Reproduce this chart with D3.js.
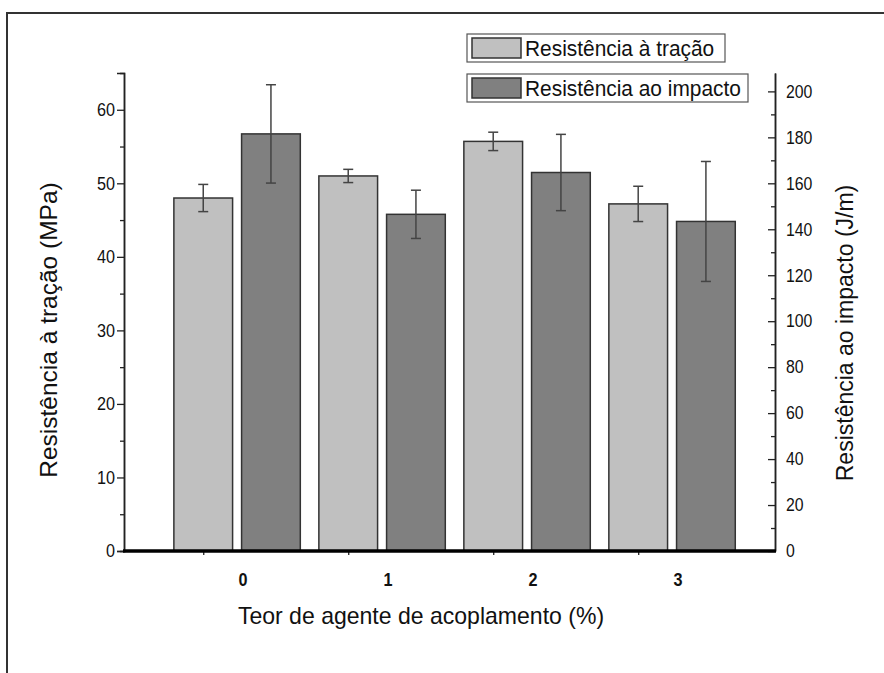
<!DOCTYPE html>
<html>
<head>
<meta charset="utf-8">
<script src="https://cdn.jsdelivr.net/npm/d3@7"></script>
<style>
  html, body { margin: 0; padding: 0; background: #fff; }
  svg { display: block; }
  text { font-family: "Liberation Sans", Arial, sans-serif; fill: #111; }
</style>
</head>
<body>
<svg id="chart" width="884" height="673"></svg>
<script>
// Coupling-agent content (%)
const categories = ["0", "1", "2", "3"];
// Tensile strength (MPa) and standard deviation
const tensile = [48.0, 51.0, 55.7, 47.2];
const tensileErr = [1.85, 0.9, 1.25, 2.4];
// Impact strength (J/m) and standard deviation
const impact = [181.5, 146.5, 164.7, 143.4];
const impactErr = [21.4, 10.5, 16.6, 26.1];
// Axis ticks
const leftTicks = [0, 10, 20, 30, 40, 50, 60];
const rightTicks = [0, 20, 40, 60, 80, 100, 120, 140, 160, 180, 200];
const seriesNames = ["Resistência à tração", "Resistência ao impacto"];

const svg = d3.select("#chart");

// outer frame
svg.append("rect")
  .attr("x", 7).attr("y", 13).attr("width", 900).attr("height", 700)
  .attr("fill", "none").attr("stroke", "#333").attr("stroke-width", 2);

const plot = { left: 124, right: 775, top: 73, bottom: 551 };

const x = d3.scaleLinear().domain([-0.78, 3.71]).range([plot.left, plot.right]);
const yL = d3.scaleLinear().domain([0, 65]).range([plot.bottom, plot.top]);
const yR = d3.scaleLinear().domain([0, 208]).range([plot.bottom, plot.top]);

const barW = 0.405;   // bar width in category units
const offs = 0.031;   // half gap between paired bars

const light = "#c0c0c0", dark = "#808080";

// horizontally condensed text placed at (px, py)
function narrow(sel, px, py, sx) {
  sel.attr("x", null).attr("y", null)
    .attr("transform", `translate(${px},${py}) scale(${sx},1)`);
}

// tensile bars
const g = svg.append("g");
g.selectAll("rect.t").data(tensile).join("rect")
  .attr("class", "t")
  .attr("x", (d, i) => x(i - offs - barW))
  .attr("width", x(barW) - x(0))
  .attr("y", d => yL(d))
  .attr("height", d => yL(0) - yL(d))
  .attr("fill", light).attr("stroke", "#333").attr("stroke-width", 1.5);

// impact bars
g.selectAll("rect.i").data(impact).join("rect")
  .attr("class", "i")
  .attr("x", (d, i) => x(i + offs))
  .attr("width", x(barW) - x(0))
  .attr("y", d => yR(d))
  .attr("height", d => yR(0) - yR(d))
  .attr("fill", dark).attr("stroke", "#333").attr("stroke-width", 1.5);

// error bars
function errBars(vals, errs, scale, cxFn) {
  const eg = svg.append("g").attr("stroke", "#444").attr("stroke-width", 1.5);
  vals.forEach((v, i) => {
    const cx = cxFn(i);
    const y1 = scale(v + errs[i]), y2 = scale(v - errs[i]);
    eg.append("line").attr("x1", cx).attr("x2", cx).attr("y1", y1).attr("y2", y2);
    eg.append("line").attr("x1", cx - 5).attr("x2", cx + 5).attr("y1", y1).attr("y2", y1);
    eg.append("line").attr("x1", cx - 5).attr("x2", cx + 5).attr("y1", y2).attr("y2", y2);
  });
}
errBars(tensile, tensileErr, yL, i => x(i - offs - barW / 2));
errBars(impact, impactErr, yR, i => x(i + offs + barW / 2));

// left axis
const axL = svg.append("g").attr("transform", `translate(${plot.left},0)`);
axL.call(d3.axisLeft(yL).tickValues(leftTicks).tickSize(7).tickPadding(5).tickFormat(d3.format("d")));
axL.append("g").call(d3.axisLeft(yL).tickValues(d3.range(5, 65, 10)).tickSize(4).tickFormat(""));
axL.selectAll(".domain").attr("stroke", "#222").attr("stroke-width", 1.5);
axL.selectAll(".tick line").attr("stroke", "#222").attr("stroke-width", 1.3);
axL.selectAll(".tick text").style("font-size", "18px").attr("fill", "#111")
  .each(function () { narrow(d3.select(this), -9, 0, 0.9); });

// right axis
const axR = svg.append("g").attr("transform", `translate(${plot.right},0)`);
axR.call(d3.axisRight(yR).tickValues(rightTicks).tickSizeInner(-7).tickSizeOuter(0).tickPadding(12).tickFormat(d3.format("d")));
axR.append("g").call(d3.axisRight(yR).tickValues(d3.range(10, 210, 20)).tickSizeInner(-4).tickSizeOuter(0).tickFormat(""));
axR.selectAll(".domain").attr("stroke", "#222").attr("stroke-width", 1.5);
axR.selectAll(".tick line").attr("stroke", "#222").attr("stroke-width", 1.3);
axR.selectAll(".tick text").style("font-size", "18px").attr("fill", "#111")
  .each(function () { narrow(d3.select(this), 11, 0, 0.88); });

// bottom axis
const axB = svg.append("g").attr("transform", `translate(0,${plot.bottom})`);
axB.call(d3.axisBottom(x).tickValues(categories.map((c, i) => i - offs - barW / 2)).tickSize(4).tickFormat(""));
axB.select(".domain").remove();
axB.selectAll(".tick line").attr("stroke", "#222").attr("stroke-width", 1.3);
svg.append("line")
  .attr("x1", plot.left - 1).attr("x2", plot.right + 1)
  .attr("y1", plot.bottom).attr("y2", plot.bottom)
  .attr("stroke", "#000").attr("stroke-width", 3.5);

// category labels
svg.append("g").selectAll("text").data(categories).join("text")
  .attr("text-anchor", "middle")
  .style("font-size", "18px").style("font-weight", "bold")
  .text(d => d)
  .each(function (d, i) { narrow(d3.select(this), x(i) + 6, plot.bottom + 35, 0.9); });

// axis titles
svg.append("text")
  .attr("transform", `translate(57,${(plot.top + plot.bottom) / 2 + 18}) rotate(-90)`)
  .attr("text-anchor", "middle").style("font-size", "24.5px")
  .text("Resistência à tração (MPa)");
svg.append("text")
  .attr("transform", `translate(853,${(plot.top + plot.bottom) / 2 + 21}) rotate(-90)`)
  .attr("text-anchor", "middle").style("font-size", "23px")
  .text("Resistência ao impacto (J/m)");
svg.append("text")
  .attr("text-anchor", "middle").style("font-size", "24px")
  .text("Teor de agente de acoplamento (%)")
  .call(s => narrow(s, 421, 624, 0.96));

// legend
const legendBoxes = [
  { y: 34, w: 258, fill: light },
  { y: 74, w: 281, fill: dark }
];
const lg = svg.append("g");
seriesNames.forEach((name, i) => {
  const b = legendBoxes[i];
  const item = lg.append("g").attr("transform", `translate(467,${b.y})`);
  item.append("rect").attr("width", b.w).attr("height", 28)
    .attr("fill", "#fff").attr("stroke", "#555").attr("stroke-width", 1.2);
  item.append("rect").attr("x", 5).attr("y", 4).attr("width", 49).attr("height", 20)
    .attr("fill", b.fill).attr("stroke", "#333").attr("stroke-width", 1.5);
  item.append("text").style("font-size", "22px").text(name)
    .call(s => narrow(s, 58, 22, 0.95));
});
</script>
</body>
</html>
